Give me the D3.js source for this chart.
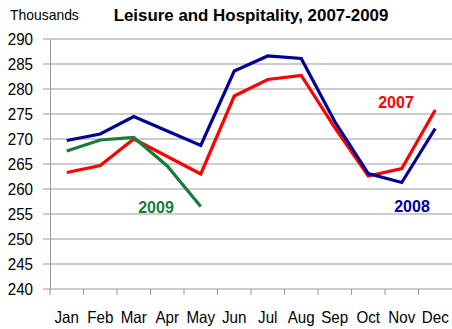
<!DOCTYPE html>
<html>
<head>
<meta charset="utf-8">
<script src="https://cdn.jsdelivr.net/npm/d3@7/dist/d3.min.js"></script>
<style>
  html, body { margin: 0; padding: 0; background: #fff; }
  svg { display: block; }
</style>
</head>
<body>
<svg id="chart" width="452" height="329"></svg>
<script>
// Monthly employment, leisure and hospitality (thousands)
const months = ["Jan", "Feb", "Mar", "Apr", "May", "Jun", "Jul", "Aug", "Sep", "Oct", "Nov", "Dec"];
const values2007 = [263.3, 264.7, 270.0, 266.5, 263.0, 278.6, 281.9, 282.7, 272.3, 262.6, 264.1, 275.8];
const values2008 = [269.7, 271.0, 274.5, 271.6, 268.7, 283.6, 286.6, 286.1, 273.5, 263.1, 261.3, 272.1];
const values2009 = [267.6, 269.8, 270.3, 264.6, 256.5];
const yTicks = [240, 245, 250, 255, 260, 265, 270, 275, 280, 285, 290];

const series = [
  { name: "2007", values: values2007, color: "#ff0000", label: { x: 396, y: 108 } },
  { name: "2008", values: values2008, color: "#000099", label: { x: 412, y: 212 } },
  { name: "2009", values: values2009, color: "#1a7a3a", label: { x: 156, y: 213 } }
];

const svg = d3.select("#chart");
const plot = { left: 50, right: 452, top: 39, bottom: 289 };
const sans = "'Liberation Sans', Arial, sans-serif";
const squeeze = 0.92;   // slightly condensed axis lettering

const x = d3.scaleBand().domain(months).range([plot.left, plot.right]);
const y = d3.scaleLinear().domain([240, 290]).range([plot.bottom, plot.top]);

// horizontal grid lines (with short outer ticks left of the axis)
svg.append("g")
  .selectAll("line")
  .data(yTicks)
  .join("line")
  .attr("x1", plot.left - 7).attr("x2", plot.right)
  .attr("y1", d => y(d)).attr("y2", d => y(d))
  .attr("stroke", "#999").attr("stroke-width", 1);

// y axis
const yAxis = svg.append("g")
  .attr("transform", `translate(${plot.left},0)`)
  .call(d3.axisLeft(y).tickValues(yTicks).tickSize(0).tickPadding(17));
yAxis.select(".domain").attr("stroke", "#999");
yAxis.selectAll("text")
  .attr("font-family", sans).attr("font-size", 16.5).attr("fill", "#000")
  .attr("x", -17 / squeeze)
  .attr("transform", `scale(${squeeze},1)`);

// x axis with ticks between categories
const xAxis = svg.append("g")
  .attr("transform", `translate(0,${plot.bottom})`)
  .call(d3.axisBottom(x).tickSize(0).tickPadding(22));
xAxis.select(".domain").remove();
xAxis.selectAll("text")
  .attr("font-family", sans).attr("font-size", 16.5).attr("fill", "#000")
  .attr("transform", `scale(${squeeze},1)`);
xAxis.selectAll("line.sep")
  .data(months)
  .join("line")
  .attr("class", "sep")
  .attr("x1", d => x(d)).attr("x2", d => x(d))
  .attr("y1", 0).attr("y2", 6)
  .attr("stroke", "#999");

// series lines
const line = d3.line()
  .x((d, i) => x(months[i]) + x.bandwidth() / 2)
  .y(d => y(d));

svg.append("g")
  .selectAll("path")
  .data(series)
  .join("path")
  .attr("d", d => line(d.values))
  .attr("fill", "none")
  .attr("stroke", d => d.color)
  .attr("stroke-width", 3.2)
  .attr("stroke-linejoin", "miter");

// series labels
svg.append("g")
  .selectAll("text")
  .data(series)
  .join("text")
  .attr("x", d => d.label.x).attr("y", d => d.label.y)
  .attr("text-anchor", "middle")
  .attr("font-family", sans).attr("font-weight", "bold").attr("font-size", 16)
  .attr("fill", d => d.color)
  .text(d => d.name);

// titles
svg.append("text")
  .attr("transform", `translate(10,20) scale(0.96,1)`)
  .attr("font-family", sans).attr("font-size", 14.5).attr("fill", "#000")
  .text("Thousands");
svg.append("text")
  .attr("x", 251).attr("y", 21)
  .attr("text-anchor", "middle")
  .attr("font-family", sans).attr("font-weight", "bold").attr("font-size", 16.9).attr("fill", "#000")
  .text("Leisure and Hospitality, 2007-2009");
</script>
</body>
</html>
